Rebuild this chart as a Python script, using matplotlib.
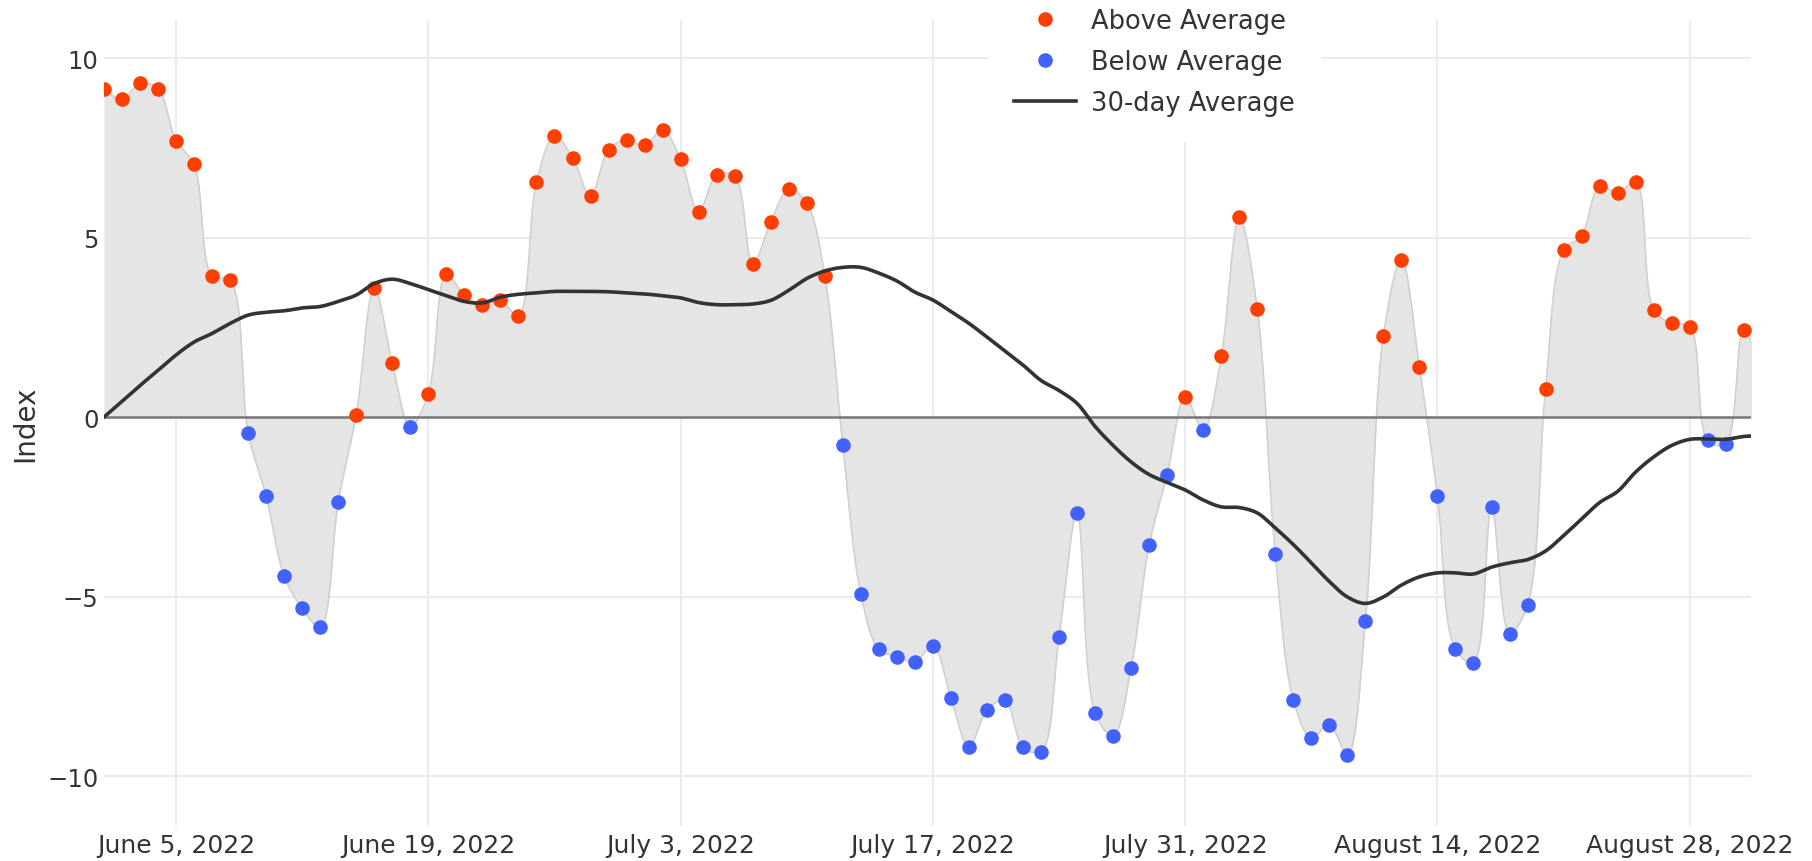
import numpy as np
import pandas as pd
import matplotlib
matplotlib.use("Agg")
import matplotlib.pyplot as plt
import matplotlib.dates as mdates
from matplotlib.lines import Line2D

# daily index values, June 1 - Sept 1 2022
dates = pd.date_range("2022-06-01", "2022-09-01", freq="D")
index_vals = [
    9.15, 8.85, 9.30, 9.15, 7.70, 7.04, 3.93, 3.82, -0.44, -2.20, -4.43, -5.33, -5.86, -2.37, 0.07,
    3.60, 1.50, -0.27, 0.65, 3.99, 3.39, 3.13, 3.25, 2.82, 6.54, 7.83, 7.23, 6.16, 7.45, 7.72,
    7.57, 8.00, 7.18, 5.72, 6.74, 6.72, 4.27, 5.43, 6.35, 5.96, 3.94, -0.78, -4.92, -6.47, -6.67,
    -6.82, -6.37, -7.82, -9.19, -8.16, -7.89, -9.19, -9.32, -6.13, -2.67, -8.24, -8.89, -6.99, -3.56, -1.62, 0.55,
    -0.35, 1.69, 5.57, 3.02, -3.80, -7.87, -8.94, -8.57, -9.40, -5.69, 2.26, 4.38, 1.39, -2.20, -6.47,
    -6.84, -2.51, -6.03, -5.23, 0.77, 4.64, 5.05, 6.44, 6.24, 6.55, 2.99, 2.61, 2.52, -0.65, -0.74, 2.43,
    1.30,
]
avg_30 = [
    0.00, 0.44, 0.88, 1.30, 1.73, 2.09, 2.33, 2.61, 2.84, 2.92, 2.96, 3.04, 3.08, 3.22, 3.40,
    3.72, 3.84, 3.72, 3.55, 3.38, 3.22, 3.18, 3.34, 3.42, 3.46, 3.50, 3.50, 3.50, 3.49, 3.46,
    3.43, 3.38, 3.32, 3.19, 3.13, 3.13, 3.15, 3.25, 3.53, 3.86, 4.07, 4.17, 4.17, 4.01, 3.79,
    3.48, 3.26, 2.94, 2.61, 2.23, 1.84, 1.45, 1.02, 0.74, 0.38, -0.26, -0.79, -1.25, -1.60, -1.82, -2.03,
    -2.31, -2.50, -2.52, -2.67, -3.09, -3.55, -4.06, -4.58, -5.01, -5.19, -5.01, -4.68, -4.45, -4.34, -4.34,
    -4.37, -4.18, -4.06, -3.97, -3.73, -3.30, -2.84, -2.38, -2.07, -1.53, -1.11, -0.79, -0.62, -0.61, -0.62,
    -0.54, -0.52,
]
tick_dates = pd.date_range("2022-06-05", "2022-08-28", freq="14D")

RED = "#ff3f00"
BLUE = "#4262ff"
TEXT = "#333333"

# rough pixels per data unit, so the spline bends like it does on screen
PX_X, PX_Y = 18.0, 35.9


def smooth(x, y, n=24):
    # plotly-style spline (centripetal catmull-rom tangents, bezier segments)
    p = np.column_stack([np.asarray(x, float) * PX_X, np.asarray(y, float) * PX_Y])
    tans = []
    for i in range(1, len(p) - 1):
        d1 = p[i - 1] - p[i]
        d2 = p[i + 1] - p[i]
        d1a = np.hypot(*d1) ** 0.5
        d2a = np.hypot(*d2) ** 0.5
        num = d2a ** 2 * d1 - d1a ** 2 * d2
        den1 = 3 * d2a * (d1a + d2a)
        den2 = 3 * d1a * (d1a + d2a)
        tans.append((p[i] + (num / den1 if den1 else 0), p[i] - (num / den2 if den2 else 0)))
    t = np.linspace(0, 1, n, endpoint=False)[:, None]
    segs = []
    # first and last pieces are quadratic
    segs.append((1 - t) ** 2 * p[0] + 2 * (1 - t) * t * tans[0][0] + t ** 2 * p[1])
    for i in range(2, len(p) - 1):
        a, b, c, d = p[i - 1], tans[i - 2][1], tans[i - 1][0], p[i]
        segs.append((1 - t) ** 3 * a + 3 * (1 - t) ** 2 * t * b + 3 * (1 - t) * t ** 2 * c + t ** 3 * d)
    t1 = np.linspace(0, 1, n)[:, None]
    segs.append((1 - t1) ** 2 * p[-2] + 2 * (1 - t1) * t1 * tans[-1][1] + t1 ** 2 * p[-1])
    out = np.vstack(segs)
    return out[:, 0] / PX_X, out[:, 1] / PX_Y


df = pd.DataFrame({"date": dates, "index": index_vals, "avg": avg_30})
df["x"] = mdates.date2num(df["date"])
above = df[df["index"] >= 0]
below = df[df["index"] < 0]

fig = plt.figure(figsize=(18.12, 8.62), dpi=100)
ax = fig.add_axes([104 / 1812, 35 / 862, 1647 / 1812, 806 / 862])

xs, ys = smooth(df["x"], df["index"])
ax.fill_between(xs, ys, 0, color="#e5e5e5", lw=0, zorder=1)
ax.plot(xs, ys, color="#d0d0d0", lw=1.2, zorder=1.5)
ax.axhline(0, color="#777777", lw=1.8, zorder=2)

ax.plot(above["x"], above["index"], "o", color=RED, ms=10.5, mew=0, zorder=3)
ax.plot(below["x"], below["index"], "o", color=BLUE, ms=10.5, mew=0, zorder=3)

xa, ya = smooth(df["x"], df["avg"])
ax.plot(xa, ya, color="#333333", lw=2.6, zorder=4, solid_capstyle="round")

x0 = df["x"].iloc[0]
ax.set_xlim(x0, x0 + 91.4)
ax.set_ylim(-11.39, 11.06)
ax.set_yticks([-10, -5, 0, 5, 10])
ax.set_xticks(mdates.date2num(tick_dates))
ax.set_xticklabels([d.strftime("%B ") + str(d.day) + d.strftime(", %Y") for d in tick_dates])

ax.grid(color="#ececec", lw=1.5)
ax.set_axisbelow(True)
for s in ax.spines.values():
    s.set_visible(False)
ax.tick_params(axis="both", length=0, labelcolor=TEXT)
ax.tick_params(axis="x", pad=5, labelsize=18)
ax.tick_params(axis="y", pad=4, labelsize=17.5)
ax.set_ylabel("Index", fontsize=20, color=TEXT, labelpad=6)

handles = [
    Line2D([], [], ls="none", marker="o", color=RED, ms=10.5, mew=0),
    Line2D([], [], ls="none", marker="o", color=BLUE, ms=10.5, mew=0),
    Line2D([], [], color="#333333", lw=2.6),
]
leg = fig.legend(handles, ["Above Average", "Below Average", "30-day Average"],
                 loc="upper left", bbox_to_anchor=(0.5456, 1.0193), fontsize=18.5,
                 frameon=True, facecolor="white", edgecolor="none", framealpha=1,
                 handlelength=2.4, handletextpad=0.6, labelspacing=0.59, borderpad=1.0,
                 borderaxespad=0)
for t in leg.get_texts():
    t.set_color(TEXT)

fig.savefig("out.png", dpi=100)
